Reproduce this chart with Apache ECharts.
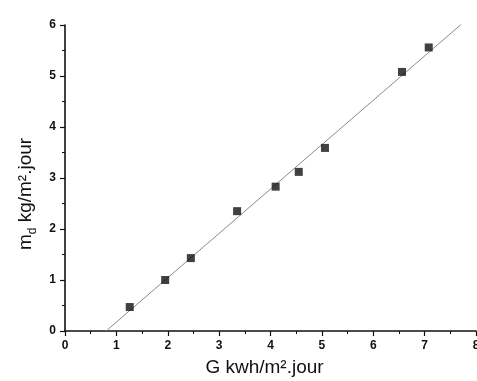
<!DOCTYPE html>
<html>
<head>
<meta charset="utf-8">
<script src="https://cdn.jsdelivr.net/npm/echarts@6/dist/echarts.min.js"></script>
<style>
  html, body { margin: 0; padding: 0; background: #fff; }
  #chart { width: 477px; height: 381px; }
</style>
</head>
<body>
<div id="chart"></div>
<script>
// measured points (G, md)
const gValues = [1.26, 1.95, 2.45, 3.35, 4.1, 4.55, 5.06, 6.56, 7.08];
const mdValues = [0.47, 1.0, 1.43, 2.35, 2.83, 3.12, 3.59, 5.08, 5.56];

// fitted line ends
const fitX = [0.8, 7.72];
const fitY = [0, 6.02];

const xTicks = [0, 1, 2, 3, 4, 5, 6, 7, 8];
const yTicks = [0, 1, 2, 3, 4, 5, 6];

const chart = echarts.init(document.getElementById('chart'));

const font = 'Liberation Sans, Arial, sans-serif';

chart.setOption({
  backgroundColor: '#fff',
  animation: false,
  grid: { left: 65, right: 1, top: 25, bottom: 50, outerBoundsMode: 'none', containLabel: false },
  xAxis: {
    type: 'value',
    min: xTicks[0],
    max: xTicks[xTicks.length - 1],
    interval: 1,
    name: 'G kwh/m².jour',
    nameLocation: 'middle',
    nameGap: 27,
    nameTextStyle: { fontFamily: font, fontSize: 19, color: '#111', padding: [0, 12, 0, 0] },
    axisLine: { lineStyle: { color: '#111', width: 1.6 } },
    axisTick: { length: 5, lineStyle: { color: '#111', width: 1.2 } },
    minorTick: { show: true, splitNumber: 2, length: 3, lineStyle: { color: '#111' } },
    axisLabel: { fontFamily: font, fontSize: 12, fontWeight: 'bold', color: '#111', margin: 9 },
    splitLine: { show: false }
  },
  yAxis: {
    type: 'value',
    min: yTicks[0],
    max: yTicks[yTicks.length - 1],
    interval: 1,
    name: '{n|m}{s|d}{n| kg/m².jour}',
    nameLocation: 'middle',
    nameGap: 26,
    nameRotate: 90,
    nameTextStyle: {
      fontFamily: font, fontSize: 19, color: '#111',
      padding: [0, 32, 0, 0],
      rich: {
        n: { fontFamily: font, fontSize: 19, color: '#111', lineHeight: 22, verticalAlign: 'top' },
        s: { fontFamily: font, fontSize: 12, color: '#111', lineHeight: 22, verticalAlign: 'bottom', padding: [8, 0, 0, 0] }
      }
    },
    axisLine: { show: true, lineStyle: { color: '#111', width: 1.6 } },
    axisTick: { show: true, length: 5, lineStyle: { color: '#111', width: 1.2 } },
    minorTick: { show: true, splitNumber: 2, length: 3, lineStyle: { color: '#111' } },
    axisLabel: { fontFamily: font, fontSize: 12, fontWeight: 'bold', color: '#111', margin: 9 },
    splitLine: { show: false }
  },
  series: [
    {
      type: 'line',
      data: fitX.map((x, i) => [x, fitY[i]]),
      showSymbol: false,
      lineStyle: { color: '#8a8a8a', width: 1 },
      z: 1
    },
    {
      type: 'scatter',
      data: gValues.map((g, i) => [g, mdValues[i]]),
      symbol: 'rect',
      symbolSize: 8,
      itemStyle: { color: '#111' },
      z: 2
    }
  ]
});
</script>
</body>
</html>
